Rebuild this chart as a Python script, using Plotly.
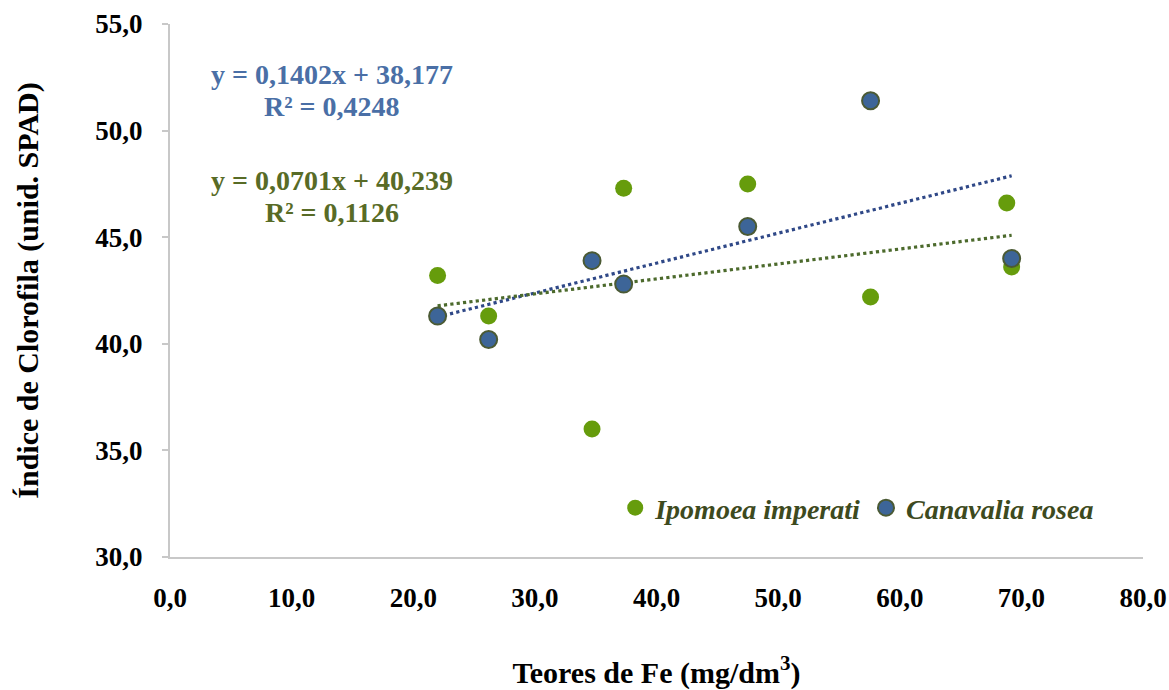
import plotly.graph_objects as go

# Data
ipomoea_x = [22.0, 26.2, 34.7, 37.3, 47.5, 57.6, 68.8, 69.2]
ipomoea_y = [43.2, 41.3, 36.0, 47.3, 47.5, 42.2, 46.6, 43.6]
canavalia_x = [22.0, 26.2, 34.7, 37.3, 47.5, 57.6, 69.2]
canavalia_y = [41.3, 40.2, 43.9, 42.8, 45.5, 51.4, 44.0]

# Trendline coefficients (from the chart's equations)
can_slope, can_int = 0.1402, 38.177
ipo_slope, ipo_int = 0.0701, 40.239

x_ticks = [0, 10, 20, 30, 40, 50, 60, 70, 80]
y_ticks = [30, 35, 40, 45, 50, 55]

FONT = "Liberation Serif, Times New Roman, serif"
GREEN = "#669c0c"
BLUE = "#3d6598"
BLUE_EDGE = "#4b5a34"
TREND_BLUE = "#2f4887"
TREND_GREEN = "#4c6a2c"
EQ_BLUE = "#4a6fa6"
EQ_GREEN = "#586b26"
LEG_TEXT = "#3d4a1e"

fig = go.Figure()

# trendlines
cx = [min(canavalia_x), max(canavalia_x)]
fig.add_trace(go.Scatter(x=cx, y=[can_int + can_slope * v for v in cx], mode="lines",
                         line=dict(color=TREND_BLUE, width=3.2, dash="dot"),
                         showlegend=False, hoverinfo="skip"))
ix = [min(ipomoea_x), max(ipomoea_x)]
fig.add_trace(go.Scatter(x=ix, y=[ipo_int + ipo_slope * v for v in ix], mode="lines",
                         line=dict(color=TREND_GREEN, width=3.2, dash="dot"),
                         showlegend=False, hoverinfo="skip"))

fig.add_trace(go.Scatter(x=ipomoea_x, y=ipomoea_y, mode="markers",
                         name="<i>Ipomoea imperati</i>",
                         marker=dict(color=GREEN, size=17, line=dict(width=0))))
fig.add_trace(go.Scatter(x=canavalia_x, y=canavalia_y, mode="markers",
                         name="<i>Canavalia rosea</i>",
                         marker=dict(color=BLUE, size=17, line=dict(color=BLUE_EDGE, width=2))))

# equation annotations
for txt, yv, col in [
    ("y = 0,1402x + 38,177", 52.65, EQ_BLUE),
    ("R² = 0,4248", 51.15, EQ_BLUE),
    ("y = 0,0701x + 40,239", 47.64, EQ_GREEN),
    ("R² = 0,1126", 46.14, EQ_GREEN),
]:
    fig.add_annotation(x=13.3, y=yv, xref="x", yref="y", text=txt, showarrow=False,
                       font=dict(family=FONT, size=28, color=col, weight="bold"),
                       xanchor="center", yanchor="middle")

fig.update_layout(
    width=1169, height=690,
    margin=dict(l=170, r=26, t=24, b=133),
    paper_bgcolor="white", plot_bgcolor="white",
    separators=",.",
    font=dict(family=FONT, color="black"),
    legend=dict(orientation="h", x=0.955, y=0.045, xanchor="right", yanchor="bottom",
                font=dict(family=FONT, size=28, color=LEG_TEXT, weight="bold"),
                itemsizing="trace", bgcolor="rgba(0,0,0,0)", itemwidth=30,
                tracegroupgap=0),
    xaxis=dict(range=[0, 80], tickvals=x_ticks, tickformat=".1f", automargin=False,
               showgrid=False, zeroline=False, showline=True, linecolor="#c8c8c8",
               linewidth=2, ticks="", ticklabelstandoff=16,
               tickfont=dict(family=FONT, size=27, color="black", weight="bold"),
               title=dict(text="Teores de Fe (mg/dm<sup>3</sup>)", standoff=62,
                          font=dict(family=FONT, size=30, color="black", weight="bold"))),
    yaxis=dict(range=[30, 55], tickvals=y_ticks, tickformat=".1f", automargin=False,
               showgrid=False, zeroline=False, showline=True, linecolor="#c8c8c8",
               linewidth=2, ticks="outside", ticklen=6, tickcolor="#c8c8c8", tickwidth=2,
               ticklabelstandoff=14,
               tickfont=dict(family=FONT, size=27, color="black", weight="bold"),
               title=dict(text="Índice de Clorofila (unid. SPAD)", standoff=48,
                          font=dict(family=FONT, size=30, color="black", weight="bold"))),
)

fig.write_html("out.html")
